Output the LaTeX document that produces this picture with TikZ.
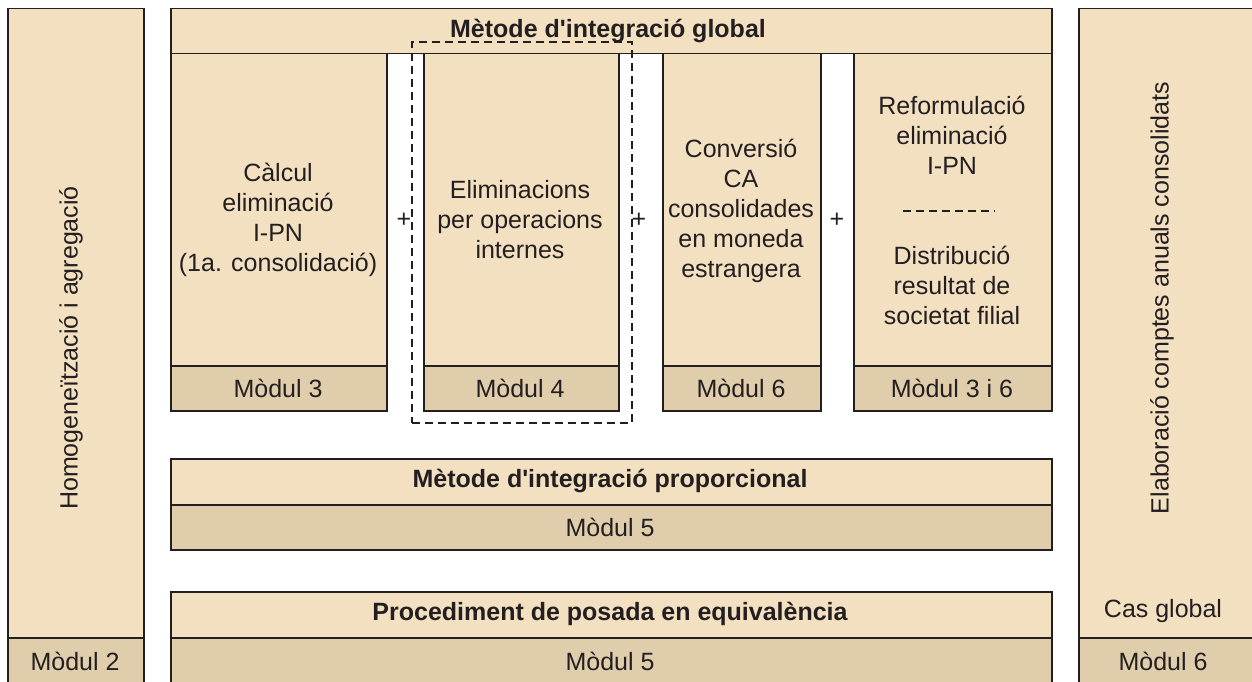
\documentclass[tikz,border=0pt]{standalone}
\usepackage{fontspec}
\setmainfont{Liberation Sans}
\newcommand{\apos}{\XeTeXglyph\XeTeXcharglyph"0027\relax}
\definecolor{lightc}{RGB}{243,224,193}
\definecolor{bandc}{RGB}{224,205,171}
\definecolor{linec}{RGB}{35,31,32}
\tikzset{
  lt/.style={draw=linec, fill=lightc, line width=1.5pt, inner sep=0pt, anchor=north west},
  bd/.style={draw=linec, fill=bandc, line width=1.5pt, inner sep=0pt, anchor=north west},
  txt/.style={font=\fontsize{25}{30}\selectfont, text=linec, align=center, inner sep=0pt},
  btxt/.style={txt, font=\fontsize{25}{30}\selectfont\bfseries},
  dbox/.style={draw=linec, line width=1.6pt, dash pattern=on 8pt off 5pt, inner sep=0pt, anchor=north west},
}
\newcommand{\bx}[6]{\node[#1, minimum width=#4pt, minimum height=#5pt] (#6) at (#2,#3) {};}
\begin{document}
\begin{tikzpicture}[x=1pt,y=-1pt]
\useasboundingbox (0,0) rectangle (1252,682);
\clip (0,0) rectangle (1252,682);
% left column
\bx{lt}{7}{8}{136}{629}{left}
\bx{bd}{7}{637}{136}{70}{leftb}
% header
\bx{lt}{170}{8}{881}{45}{head}
% columns
\bx{lt}{170}{53}{216}{312}{c1}
\bx{bd}{170}{365}{216}{45}{c1b}
\bx{lt}{423}{53}{195}{312}{c2}
\bx{bd}{423}{365}{195}{45}{c2b}
\bx{lt}{662}{53}{158}{312}{c3}
\bx{bd}{662}{365}{158}{45}{c3b}
\bx{lt}{853}{53}{198}{312}{c4}
\bx{bd}{853}{365}{198}{45}{c4b}
% proportional
\bx{lt}{170}{458}{881}{46}{prop}
\bx{bd}{170}{504}{881}{45}{propb}
% equivalence
\bx{lt}{170}{591}{881}{46}{proc}
\bx{bd}{170}{637}{881}{70}{procb}
% right column
\bx{lt}{1078}{8}{200}{629}{right}
\bx{bd}{1078}{637}{200}{70}{rightb}
% dashed box
\node[dbox, minimum width=220pt, minimum height=381pt] (dash) at (411,41) {};
% texts
\node[txt, rotate=90] (tleft) at (71,348) {Homogeneïtzació i agregació};
\node[txt] (tl2) at (75,661) {Mòdul 2};
\node[btxt] (thead) at (608,31) {Mètode d\apos integració global};
\node[txt] (t1) at (278,220) {Càlcul\\eliminació\\I-PN\\(1a. consolidació)};
\node[txt] (t2) at (520,220) {Eliminacions\\per operacions\\internes};
\node[txt] (t3) at (741,211) {Conversió\\CA\\consolidades\\en moneda\\estrangera};
\node[txt] (t4a) at (952,135) {Reformulació\\eliminació\\I-PN};
\coordinate (da) at (903,211);
\coordinate (db) at (995,211);
\draw[linec, line width=1.2pt, dash pattern=on 8pt off 5pt] (da) -- (db);
\node[txt] (t4b) at (952,285) {Distribució\\resultat de\\societat filial};
\node[txt] (m3) at (278,388) {Mòdul 3};
\node[txt] (m4) at (520,388) {Mòdul 4};
\node[txt] (m6) at (741,388) {Mòdul 6};
\node[txt] (m36) at (952,388) {Mòdul 3 i 6};
\node[txt] (p1) at (404,220) {+};
\node[txt] (p2) at (639,220) {+};
\node[txt] (p3) at (837,220) {+};
\node[btxt] (tprop) at (610,481) {Mètode d\apos integració proporcional};
\node[txt] (m5a) at (610,527) {Mòdul 5};
\node[btxt] (tproc) at (610,614) {Procediment de posada en equivalència};
\node[txt] (m5b) at (610,661) {Mòdul 5};
\node[txt, rotate=90] (tright) at (1162,298) {Elaboració comptes anuals consolidats};
\node[txt] (cas) at (1163,611) {Cas global};
\node[txt] (m6b) at (1163,661) {Mòdul 6};
\end{tikzpicture}
\end{document}
